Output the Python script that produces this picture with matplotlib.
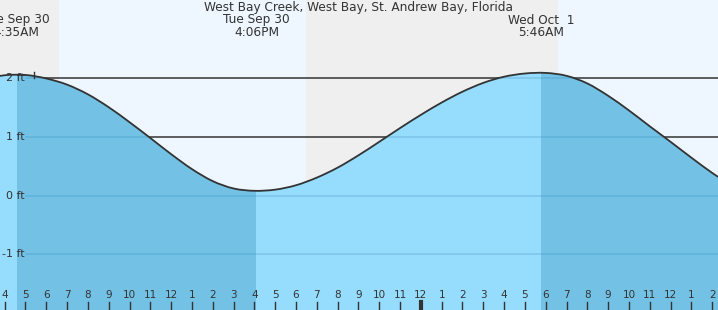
import matplotlib
matplotlib.use('Agg')
import matplotlib.pyplot as plt
from matplotlib.path import Path
from matplotlib.patches import PathPatch
import numpy as np

# hours since Sep 30 00:00, tide height in ft
hours = list(range(3, 40))
height = [1.985, 2.05, 2.055, 1.995, 1.89, 1.725, 1.505, 1.25, 0.98, 0.705, 0.45, 0.245, 0.12, 0.08,
          0.10, 0.175, 0.305, 0.475, 0.685, 0.915, 1.15, 1.375, 1.585, 1.77, 1.92, 2.025, 2.08,
          2.09, 2.04, 1.91, 1.70, 1.45, 1.18, 0.915, 0.645, 0.385, 0.15]

# high / low events
event_t = [4.583, 16.1, 29.767]
event_day = ["Tue Sep 30", "Tue Sep 30", "Wed Oct  1"]
event_time = ["4:35AM", "4:06PM", "5:46AM"]

# sunrise / sunset
sunrise = [6.61, 30.59]
sunset = [18.48]

ft_levels = [2, 1, 0, -1]
ft_labels = ["2 ft", "1 ft", "0 ft", "-1 ft"]

hour_ticks = list(range(4, 39))
hour_labels = ["4", "5", "6", "7", "8", "9", "10", "11", "12", "1", "2", "3",
               "4", "5", "6", "7", "8", "9", "10", "11", "12", "1", "2", "3",
               "4", "5", "6", "7", "8", "9", "10", "11", "12", "1", "2"]
midnight = 24

title = "West Bay Creek, West Bay, St. Andrew Bay, Florida"

W, H = 718, 310
XMIN, XMAX = 3.776, 38.278
YMIN, YMAX = -1.952, 3.333

night_c = '#efefef'
day_c = '#eef7ff'
light_c = '#96dcfd'
dark_c = '#73c2e6'
txt_c = '#333333'


def smooth_verts(x, y):
    pts = np.column_stack([x, y]).astype(float)
    n = len(pts)
    verts = [pts[0]]
    codes = [Path.MOVETO]
    for i in range(n - 1):
        p0 = pts[max(i - 1, 0)]
        p1 = pts[i]
        p2 = pts[i + 1]
        p3 = pts[min(i + 2, n - 1)]
        verts += [p1 + (p2 - p0) / 6, p2 - (p3 - p1) / 6, p2]
        codes += [Path.CURVE4] * 3
    return verts, codes


fig = plt.figure(figsize=(W / 100, H / 100), dpi=100)
ax = fig.add_axes([0, 0, 1, 1])
ax.set_xlim(XMIN, XMAX)
ax.set_ylim(YMIN, YMAX)
ax.axis('off')

# day / night background
ax.axvspan(XMIN, sunrise[0], color=night_c, lw=0, zorder=0)
ax.axvspan(sunrise[0], sunset[0], color=day_c, lw=0, zorder=0)
ax.axvspan(sunset[0], sunrise[1], color=night_c, lw=0, zorder=0)
ax.axvspan(sunrise[1], XMAX, color=day_c, lw=0, zorder=0)

x0 = 26 / W
for lv in ft_levels:
    ax.axhline(lv, xmin=x0, color='#333333', lw=1.1, zorder=1)

verts, codes = smooth_verts(hours, height)
fv = verts + [(hours[-1], YMIN - 1), (hours[0], YMIN - 1), (hours[0], height[0])]
fc = codes + [Path.LINETO, Path.LINETO, Path.CLOSEPOLY]
water = PathPatch(Path(fv, fc), facecolor=light_c, lw=0, zorder=2)
ax.add_patch(water)

# falling tide drawn darker
for a, b in [(event_t[0], event_t[1]), (event_t[2], XMAX + 1)]:
    sp = ax.axvspan(a, b, color=dark_c, lw=0, zorder=2.1)
    sp.set_clip_path(water)

for lv in ft_levels:
    gl = ax.axhline(lv, xmin=x0, color='#2a7fb0', alpha=0.25, lw=1.1, zorder=3)
    gl.set_clip_path(water)

ax.add_patch(PathPatch(Path(verts, codes), fill=False, edgecolor='#333333', lw=1.3, zorder=4))

# small marker near the first high
ax.plot([5.42, 5.42], [2.0, 2.1], color='#333333', lw=1, zorder=5)

# ft labels
for lv, lb in zip(ft_levels, ft_labels):
    ax.text(24.5 / W, lv, lb, transform=ax.get_yaxis_transform(), ha='right', va='center',
            fontsize=8, color=txt_c, zorder=6)

# hour ticks and labels inside the plot
xt = ax.get_xaxis_transform()
for ht, hl in zip(hour_ticks, hour_labels):
    ax.plot([ht, ht], [0, 8 / H], transform=xt, color='#333333',
            lw=3 if ht == midnight else 1, zorder=6)
    ax.text(ht, 14.5 / H, hl, transform=xt, ha='center', va='center',
            fontsize=7.5, color=txt_c, zorder=6)

# title and event labels
ax.text(0.5, 1 - 7.5 / H, title, transform=ax.transAxes, ha='center', va='center',
        fontsize=8.7, color=txt_c, zorder=6)
for et, ed, tm in zip(event_t, event_day, event_time):
    ax.text(et, 1 - 20 / H, ed, transform=xt, ha='center', va='center',
            fontsize=8.7, color=txt_c, zorder=6)
    ax.text(et, 1 - 32 / H, tm, transform=xt, ha='center', va='center',
            fontsize=8.7, color=txt_c, zorder=6)

fig.savefig('out.png', dpi=100)
